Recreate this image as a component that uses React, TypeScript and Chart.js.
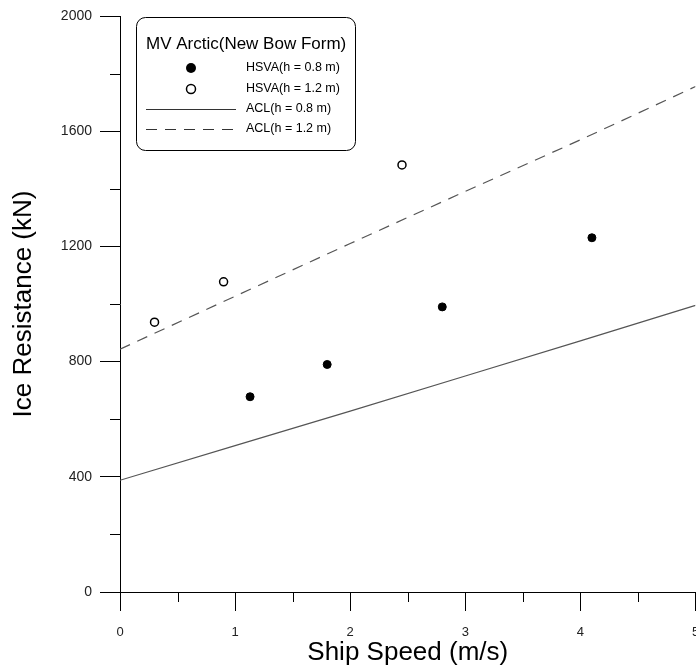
import React, { useEffect, useRef } from "react";
import { Chart, registerables } from "chart.js";

Chart.register(...registerables);

// HSVA model test points
const hsva08Speed = [1.13, 1.8, 2.8, 4.1];
const hsva08Res = [678, 790, 990, 1230];
const hsva12Speed = [0.3, 0.9, 2.45];
const hsva12Res = [937, 1077, 1483];

// ACL predictions
const aclSpeed = [0, 1, 2, 3, 4, 5];
const acl08Res = [388, 508, 628, 750, 872, 995];
const acl12Res = [843, 1027, 1210, 1391, 1570, 1755];

const xTicksMajor = [0, 1, 2, 3, 4, 5];
const xTicksMinor = [0.5, 1.5, 2.5, 3.5, 4.5];
const yTicksMinor = [200, 600, 1000, 1400, 1800];

const legendTitle = "MV Arctic(New Bow Form)";
const legendLabels = ["HSVA(h = 0.8 m)", "HSVA(h = 1.2 m)", "ACL(h = 0.8 m)", "ACL(h = 1.2 m)"];

const FONT = "'Liberation Sans', Arial, sans-serif";
const LINE_COLOR = "#555";

const toXY = (xs: number[], ys: number[]) => xs.map((x, i) => ({ x, y: ys[i] }));

const minorTicksPlugin = {
  id: "minorTicks",
  afterDraw(chart: any) {
    const ctx = chart.ctx;
    const xs = chart.scales.x;
    const ys = chart.scales.y;
    ctx.save();
    ctx.strokeStyle = "#000";
    ctx.lineWidth = 1;
    ctx.beginPath();
    xTicksMinor.forEach((v) => {
      const px = Math.round(xs.getPixelForValue(v)) + 0.5;
      ctx.moveTo(px, xs.top);
      ctx.lineTo(px, xs.top + 10);
    });
    yTicksMinor.forEach((v) => {
      const py = Math.round(ys.getPixelForValue(v)) + 0.5;
      ctx.moveTo(ys.right - 10, py);
      ctx.lineTo(ys.right, py);
    });
    ctx.stroke();
    ctx.restore();
  },
};

const legendPlugin = {
  id: "customLegend",
  afterDraw(chart: any) {
    const ctx = chart.ctx;
    const left = chart.chartArea.left + 16;
    const top = chart.chartArea.top + 1;
    const w = 219;
    const h = 133;
    ctx.save();
    ctx.strokeStyle = "#000";
    ctx.lineWidth = 1;
    ctx.beginPath();
    ctx.roundRect(left + 0.5, top + 0.5, w, h, 9);
    ctx.stroke();

    ctx.fillStyle = "#000";
    ctx.textBaseline = "middle";
    ctx.textAlign = "left";
    ctx.font = `17px ${FONT}`;
    ctx.fillText(legendTitle, left + 10, top + 27);

    const rows = [top + 51, top + 72, top + 92, top + 112];
    const markerX = left + 55;
    const textX = left + 110;
    ctx.font = `12.5px ${FONT}`;
    legendLabels.forEach((t, i) => ctx.fillText(t, textX, rows[i]));

    // filled marker
    ctx.beginPath();
    ctx.arc(markerX, rows[0], 5, 0, Math.PI * 2);
    ctx.fillStyle = "#000";
    ctx.fill();
    // open marker
    ctx.beginPath();
    ctx.arc(markerX, rows[1], 4.5, 0, Math.PI * 2);
    ctx.fillStyle = "#fff";
    ctx.fill();
    ctx.lineWidth = 1.5;
    ctx.strokeStyle = "#000";
    ctx.stroke();

    ctx.lineWidth = 1;
    ctx.strokeStyle = "#333";
    ctx.beginPath();
    ctx.moveTo(left + 10, Math.round(rows[2]) + 0.5);
    ctx.lineTo(left + 100, Math.round(rows[2]) + 0.5);
    ctx.stroke();
    ctx.setLineDash([11, 8]);
    ctx.beginPath();
    ctx.moveTo(left + 10, Math.round(rows[3]) + 0.5);
    ctx.lineTo(left + 100, Math.round(rows[3]) + 0.5);
    ctx.stroke();
    ctx.restore();
  },
};

export default function App() {
  const ref = useRef<HTMLCanvasElement | null>(null);

  useEffect(() => {
    if (!ref.current) return;
    const chart = new Chart(ref.current, {
      type: "scatter",
      data: {
        datasets: [
          {
            label: legendLabels[2],
            data: toXY(aclSpeed, acl08Res),
            showLine: true,
            borderColor: LINE_COLOR,
            borderWidth: 1.2,
            pointRadius: 0,
            fill: false,
          },
          {
            label: legendLabels[3],
            data: toXY(aclSpeed, acl12Res),
            showLine: true,
            borderColor: LINE_COLOR,
            borderWidth: 1.2,
            borderDash: [11, 8],
            pointRadius: 0,
            fill: false,
          },
          {
            label: legendLabels[0],
            data: toXY(hsva08Speed, hsva08Res),
            pointRadius: 4,
            pointBackgroundColor: "#000",
            pointBorderColor: "#000",
            pointBorderWidth: 1,
          },
          {
            label: legendLabels[1],
            data: toXY(hsva12Speed, hsva12Res),
            pointRadius: 4,
            pointBackgroundColor: "#fff",
            pointBorderColor: "#000",
            pointBorderWidth: 1.5,
          },
        ],
      },
      options: {
        responsive: false,
        animation: false,
        devicePixelRatio: 1,
        layout: { padding: { top: 16, right: 0, left: 0, bottom: 0 } },
        plugins: {
          legend: { display: false },
          tooltip: { enabled: false },
        },
        scales: {
          x: {
            type: "linear",
            position: "bottom",
            min: 0,
            max: 5,
            afterBuildTicks: (scale: any) => {
              scale.ticks = xTicksMajor.map((v) => ({ value: v }));
            },
            ticks: {
              font: { family: FONT, size: 13 },
              color: "#222",
              padding: 14,
              maxRotation: 0,
            },
            grid: {
              drawOnChartArea: false,
              drawTicks: true,
              tickLength: 19,
              color: "#000",
              lineWidth: 1,
            },
            border: { color: "#000", width: 1 },
            title: {
              display: true,
              text: "Ship Speed (m/s)",
              font: { family: FONT, size: 26 },
              color: "#000",
              padding: { top: 0, bottom: 0 },
            },
            afterFit: (scale: any) => {
              scale.height = 76;
              scale.paddingLeft = 0;
              scale.paddingRight = 0;
            },
          },
          y: {
            type: "linear",
            min: 0,
            max: 2000,
            ticks: {
              stepSize: 400,
              font: { family: FONT, size: 14 },
              color: "#222",
              padding: 8,
              callback: (v: any) => String(v),
            },
            grid: {
              drawOnChartArea: false,
              drawTicks: true,
              tickLength: 20,
              color: "#000",
              lineWidth: 1,
            },
            border: { color: "#000", width: 1 },
            title: {
              display: true,
              text: "Ice Resistance (kN)",
              font: { family: FONT, size: 26 },
              color: "#000",
              padding: { top: 8, bottom: 0 },
            },
            afterFit: (scale: any) => {
              scale.width = 120;
              scale.paddingTop = 0;
              scale.paddingBottom = 0;
            },
          },
        },
      },
      plugins: [minorTicksPlugin, legendPlugin],
    } as any);
    return () => chart.destroy();
  }, []);

  return (
    <div style={{ position: "fixed", left: 0, top: 0, width: 696, height: 668, overflow: "hidden", background: "#fff" }}>
      <canvas ref={ref} width={701} height={668} style={{ display: "block" }} />
    </div>
  );
}
